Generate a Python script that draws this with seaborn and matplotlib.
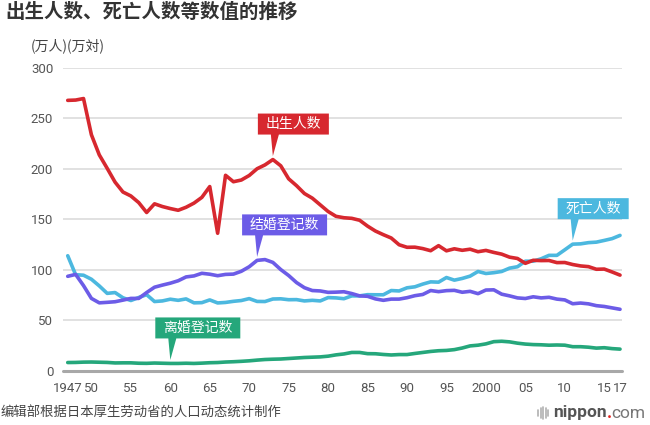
import numpy as np
import pandas as pd
import matplotlib
matplotlib.use("Agg")
import matplotlib.pyplot as plt
import matplotlib.transforms as mtransforms
from matplotlib.patches import Polygon
from matplotlib.lines import Line2D
import seaborn as sns

# ==========================
# DATA (万人 / 万対)
# ==========================

years = list(range(1947, 2018))

births = [267.9, 268.2, 269.7, 233.8, 213.8, 200.5, 186.8, 177.0, 173.1, 166.5,
          156.7, 165.3, 162.6, 160.6, 158.9, 161.9, 166.0, 171.7, 182.4, 136.1,
          193.6, 187.2, 188.9, 193.4, 200.1, 203.9, 209.2, 203.0, 190.1, 183.3,
          175.5, 170.9, 164.3, 157.7, 152.9, 151.5, 150.9, 149.0, 143.2, 138.3,
          134.7, 131.4, 124.7, 122.2, 122.3, 120.9, 118.8, 123.8, 118.7, 120.7,
          119.2, 120.3, 117.8, 119.1, 117.1, 115.4, 112.4, 111.1, 106.3, 109.3,
          109.0, 109.1, 107.0, 107.1, 105.1, 103.7, 103.0, 100.4, 100.6, 97.7,
          94.6]

deaths = [113.8, 95.0, 94.5, 90.5, 83.9, 76.5, 77.3, 72.1, 69.4, 72.4,
          75.2, 68.4, 69.0, 70.7, 69.6, 71.0, 67.1, 67.3, 70.0, 67.0,
          67.5, 68.6, 69.4, 71.3, 68.5, 68.4, 70.9, 71.1, 70.2, 70.3,
          69.0, 69.6, 69.0, 72.3, 72.0, 71.2, 74.0, 74.0, 75.2, 75.1,
          75.1, 79.3, 78.9, 82.0, 83.0, 85.7, 87.9, 87.6, 92.2, 89.6,
          91.3, 93.6, 98.2, 96.2, 97.0, 98.2, 101.5, 102.9, 108.4, 108.4,
          110.8, 114.2, 114.2, 119.7, 125.3, 125.6, 126.8, 127.3, 129.0, 130.8,
          134.0]

marriages = [93.4, 95.3, 84.2, 71.5, 67.1, 67.6, 68.2, 69.8, 71.5, 71.5,
             77.3, 82.6, 84.7, 86.6, 89.0, 92.8, 93.8, 96.4, 95.5, 94.0,
             95.3, 95.6, 98.4, 102.9, 109.2, 110.0, 107.2, 100.1, 94.2, 87.2,
             82.1, 79.3, 78.9, 77.5, 77.7, 78.1, 76.3, 74.0, 73.6, 71.0,
             69.6, 70.8, 70.8, 72.2, 74.2, 75.4, 79.3, 78.2, 79.2, 79.5,
             77.6, 78.5, 76.2, 79.8, 80.0, 75.7, 74.0, 72.0, 71.4, 73.1,
             72.0, 72.6, 70.8, 70.0, 66.2, 66.9, 66.1, 64.3, 63.5, 62.1,
             60.7]

divorces = [7.9, 8.0, 8.3, 8.4, 8.2, 8.0, 7.5, 7.6, 7.6, 7.2,
            7.1, 7.4, 7.2, 7.0, 7.0, 7.2, 7.0, 7.3, 7.7, 7.9,
            8.4, 8.7, 9.1, 9.6, 10.3, 10.9, 11.2, 11.4, 11.9, 12.4,
            12.9, 13.2, 13.5, 14.2, 15.5, 16.4, 17.9, 17.9, 16.7, 16.6,
            15.9, 15.4, 15.8, 15.8, 16.9, 17.9, 18.9, 19.6, 19.9, 20.7,
            22.3, 24.4, 25.1, 26.4, 28.6, 29.0, 28.4, 27.1, 26.2, 25.7,
            25.5, 25.1, 25.3, 25.1, 23.6, 23.6, 23.1, 22.2, 22.6, 21.7,
            21.2]

series_names = ["死亡人数", "结婚登记数", "离婚登记数", "出生人数"]
series_values = [deaths, marriages, divorces, births]
colors = ["#4cb8df", "#6c5ce7", "#25a77b", "#d7282f"]
label_years = [2011, 1971, 1960, 1973]

xtick_pos = [1947, 1950, 1955, 1960, 1965, 1970, 1975, 1980, 1985, 1990,
             1995, 2000, 2005, 2010, 2015, 2017]
xtick_labels = ["1947", "50", "55", "60", "65", "70", "75", "80", "85", "90",
                "95", "2000", "05", "10", "15", "17"]
ytick_pos = [0, 50, 100, 150, 200, 250, 300]

# ==========================
# PLOT
# ==========================

sns.set_theme(style="white")
plt.rcParams["font.family"] = ["Roboto", "Noto Sans CJK SC", "DejaVu Sans"]
cjk = ["Noto Sans CJK SC", "DejaVu Sans"]

df = pd.concat([
    pd.DataFrame({"year": years, "value": vals, "series": name})
    for name, vals in zip(series_names, series_values)
])

fig = plt.figure(figsize=(6.5, 4.25), dpi=100)
ax = fig.add_axes([63 / 650, 1 - 370.5 / 425, 559 / 650, 302.5 / 425])

sns.lineplot(data=df, x="year", y="value", hue="series",
             hue_order=series_names, palette=dict(zip(series_names, colors)),
             linewidth=2.6, legend=False, ax=ax,
             solid_joinstyle="round", solid_capstyle="round", zorder=3)

ax.set_xlim(1946.4, 2017.25)
ax.set_ylim(0, 300)
ax.set_xticks(xtick_pos)
ax.set_xticklabels(xtick_labels)
ax.set_yticks(ytick_pos)
ax.set_xlabel("")
ax.set_ylabel("")
for s in ax.spines.values():
    s.set_visible(False)
ax.yaxis.grid(True, color="#d9d9d9", lw=1.1)
ax.xaxis.grid(False)
ax.axhline(0, color="#a8a8a8", lw=2.2, clip_on=False, zorder=2)
ax.tick_params(axis="both", length=0, labelsize=9.5, labelcolor="#555555")
ax.tick_params(axis="x", pad=8)
ax.tick_params(axis="y", pad=7)

# flag labels with a pointer tail
for name, vals, color, yr in zip(series_names, series_values, colors, label_years):
    v = vals[years.index(yr)]
    trans = fig.dpi_scale_trans + mtransforms.ScaledTranslation(yr, v, ax.transData)
    w = (15 + 14 * len(name)) / 100
    left, bot, top = -0.15, 0.25, 0.46
    verts = [(left, bot), (left, top), (left + w, top), (left + w, bot),
             (0.06, bot), (0.0, 0.035), (-0.02, bot)]
    ax.add_patch(Polygon(verts, closed=True, transform=trans, facecolor=color,
                         edgecolor="none", zorder=5, clip_on=False))
    ax.text(left + w / 2, (bot + top) / 2, name, transform=trans, color="white",
            fontsize=10, fontweight="medium", family=cjk,
            ha="center", va="center", zorder=6)

# texts
fig.text(5 / 650, 1 - 12 / 425, "出生人数、死亡人数等数值的推移", family=cjk,
         fontsize=14, fontweight="bold", color="#333333", va="center")
fig.text(31 / 650, 1 - 46 / 425, "(万人)(万対)", family=cjk,
         fontsize=10, color="#444444", va="center")
fig.text(1 / 650, 1 - 413 / 425, "编辑部根据日本厚生劳动省的人口动态统计制作",
         family=cjk, fontsize=9.6, color="#444444", va="center")

# nippon.com logo
for i, h in enumerate([6, 10, 12, 10, 6]):
    xx = (538 + i * 2.6) / 650
    fig.add_artist(Line2D([xx, xx], [1 - (413 + h / 2) / 425, 1 - (413 - h / 2) / 425],
                          color="#b0b0b0", lw=1.2))
t1 = fig.text(553 / 650, 1 - 413 / 425, "nippon", fontsize=12.5,
              fontweight="bold", color="#555555", va="center")
t2 = ax.annotate(".", xy=(1, 0), xycoords=t1, va="bottom", fontsize=12.5,
                 fontweight="bold", color="#e4231f")
ax.annotate("com", xy=(1, 0), xycoords=t2, va="bottom", fontsize=12.5,
            color="#777777")

plt.savefig("out.png", dpi=100)
plt.close()
